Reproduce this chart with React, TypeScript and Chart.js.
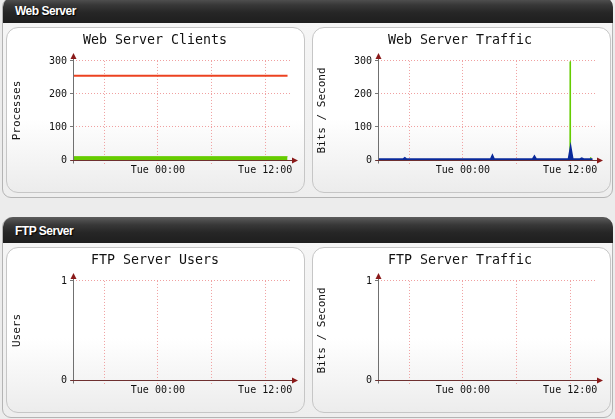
import React, { useEffect, useRef } from 'react';
import { Chart, registerables } from 'chart.js';

Chart.register(...registerables);

// ---------- data ----------
const sectionNames = ['Web Server', 'FTP Server'];
const chartTitles = ['Web Server Clients', 'Web Server Traffic', 'FTP Server Users', 'FTP Server Traffic'];
const yAxisTitles = ['Processes', 'Bits / Second', 'Users', 'Bits / Second'];

// x axis in hours relative to Tue 00:00
const xRange = [-9.5, 15];
const xTickHours = [-6, 0, 6, 12];
const xTickLabels = ['', 'Tue 00:00', '', 'Tue 12:00'];

const webYRange = [0, 300];
const webYStep = 100;
const ftpYRange = [0, 1];
const ftpYStep = 1;

// Web Server Clients
const clientTimes = [-9.5, 14.5];
const clientMaxProcesses = [255, 255];
const clientBusyProcesses = [10, 10];

// Web Server Traffic (incoming, blue)
const trafficInTimes = [-9.5, -6.7, -6.5, -6.3, 3.1, 3.3, 3.5, 7.8, 8.0, 8.2, 11.8, 12.05, 12.3, 13.1, 13.3, 13.5, 14.5];
const trafficIn = [3, 3, 7, 3, 3, 15, 3, 3, 12, 3, 3, 42, 3, 3, 6, 3, 3];
// Web Server Traffic (outgoing, green)
const trafficOutTimes = [11.96, 12.0, 12.04, 14.2, 14.3, 14.4];
const trafficOut = [0, 298, 0, 0, 8, 0];

// FTP Server (no samples)
const ftpUserTimes: number[] = [];
const ftpUsers: number[] = [];
const ftpTrafficTimes: number[] = [];
const ftpTraffic: number[] = [];

// ---------- styling ----------
const MONO = "'DejaVu Sans Mono', monospace";
const GRID = '#f0a0a0';

const pts = (xs: number[], ys: number[]) => xs.map((x, i) => ({ x, y: ys[i] }));

const axisArrows = {
  id: 'axisArrows',
  afterDatasetsDraw(chart: any) {
    const { ctx, chartArea } = chart;
    const { left, right, top, bottom } = chartArea;
    const lx = Math.round(left) + 0.5;
    const by = Math.round(bottom) + 0.5;
    ctx.save();
    ctx.setLineDash([]);
    ctx.lineWidth = 1;
    ctx.strokeStyle = '#707070';
    ctx.beginPath();
    ctx.moveTo(lx, by + 3);
    ctx.lineTo(lx, top - 3);
    ctx.stroke();
    ctx.strokeStyle = '#6e3030';
    ctx.beginPath();
    ctx.moveTo(lx - 3, by);
    ctx.lineTo(right, by);
    ctx.stroke();
    ctx.fillStyle = '#8a1a1a';
    ctx.beginPath();
    ctx.moveTo(lx, top - 8);
    ctx.lineTo(lx - 3, top - 2);
    ctx.lineTo(lx + 3, top - 2);
    ctx.closePath();
    ctx.fill();
    ctx.beginPath();
    ctx.moveTo(right + 6, by);
    ctx.lineTo(right, by - 3);
    ctx.lineTo(right, by + 3);
    ctx.closePath();
    ctx.fill();
    ctx.restore();
  },
};

function makeConfig(i: number): any {
  const isWeb = i < 2;
  let datasets: any[] = [];
  if (i === 0) {
    datasets = [
      { label: 'Max', data: pts(clientTimes, clientMaxProcesses), borderColor: '#ec4220', borderWidth: 2, pointRadius: 0, fill: false },
      { label: 'Busy', data: pts(clientTimes, clientBusyProcesses), borderColor: '#66cc00', backgroundColor: '#66cc00', borderWidth: 1, pointRadius: 0, fill: 'origin' },
    ];
  } else if (i === 1) {
    datasets = [
      { label: 'In', data: pts(trafficInTimes, trafficIn), borderColor: '#0a2a9a', backgroundColor: '#0a2a9a', borderWidth: 1.5, pointRadius: 0, fill: 'origin' },
      { label: 'Out', data: pts(trafficOutTimes, trafficOut), borderColor: '#66cc00', backgroundColor: '#66cc00', borderWidth: 1, pointRadius: 0, fill: 'origin' },
    ];
  } else if (i === 2) {
    datasets = [{ label: 'Users', data: pts(ftpUserTimes, ftpUsers), borderColor: '#66cc00', pointRadius: 0 }];
  } else {
    datasets = [{ label: 'Traffic', data: pts(ftpTrafficTimes, ftpTraffic), borderColor: '#0a2a9a', pointRadius: 0 }];
  }
  const yr = isWeb ? webYRange : ftpYRange;
  return {
    type: 'line',
    data: { datasets },
    plugins: [axisArrows],
    options: {
      animation: false,
      responsive: false,
      events: [],
      layout: { padding: { left: 12, right: 12, top: 0, bottom: 12 } },
      plugins: {
        legend: { display: false },
        tooltip: { enabled: false },
        title: {
          display: true,
          text: chartTitles[i],
          color: '#111',
          font: { family: MONO, size: 13.3, weight: 'normal' },
          padding: { top: 6, bottom: 12 },
        },
      },
      scales: {
        x: {
          type: 'linear',
          min: xRange[0],
          max: xRange[1],
          afterBuildTicks: (s: any) => {
            s.ticks = xTickHours.map((v) => ({ value: v }));
          },
          afterFit: (s: any) => {
            s.height = 20;
          },
          ticks: {
            autoSkip: false,
            maxRotation: 0,
            padding: 0,
            color: '#111',
            font: { family: MONO, size: 10 },
            callback: (_v: any, idx: number) => xTickLabels[idx],
          },
          grid: { color: GRID, lineWidth: 1, drawTicks: true, tickLength: 4, tickColor: GRID, tickBorderDash: [1, 2] },
          border: { display: false, dash: [1, 2] },
        },
        y: {
          type: 'linear',
          min: yr[0],
          max: yr[1],
          afterFit: (s: any) => {
            s.width = 55;
          },
          ticks: {
            stepSize: isWeb ? webYStep : ftpYStep,
            padding: 3,
            color: '#111',
            font: { family: MONO, size: 10 },
          },
          title: {
            display: true,
            text: yAxisTitles[i],
            color: '#111',
            font: { family: MONO, size: 11 },
            padding: { top: -7.6, bottom: 0 },
          },
          grid: { color: GRID, lineWidth: 1, drawTicks: true, tickLength: 3, tickColor: '#777', tickBorderDash: [] },
          border: { display: false, dash: [1, 2] },
        },
      },
    },
  };
}

const sectionTops = [-3, 217];
const panelLefts = [6, 312];
const canvasLefts = [6, 311];

export default function App() {
  const refs = [useRef<HTMLCanvasElement>(null), useRef<HTMLCanvasElement>(null), useRef<HTMLCanvasElement>(null), useRef<HTMLCanvasElement>(null)];

  useEffect(() => {
    const charts = refs.map((r, i) => new Chart(r.current as HTMLCanvasElement, makeConfig(i)));
    return () => charts.forEach((c) => c.destroy());
  }, []);

  return (
    <div style={{ position: 'absolute', left: 0, top: 0, width: 615, height: 419, overflow: 'hidden', background: '#ececec' }}>
      {sectionTops.map((st, s) => (
        <React.Fragment key={s}>
          <div
            style={{
              position: 'absolute', left: 2, top: st, width: 611, height: 201, boxSizing: 'border-box',
              border: '1px solid #b4b4b4', borderRadius: '10px 10px 9px 9px', background: 'linear-gradient(#f6f6f6, #eeeeee)',
            }}
          />
          <div
            style={{
              position: 'absolute', left: 3, top: st, width: 610, height: 26, borderRadius: '10px 10px 0 0',
              background: 'linear-gradient(180deg, #5c5c5c 0%, #383838 30%, #262626 60%, #1e1e1e 100%)',
            }}
          >
            <span
              style={{
                position: 'absolute', left: 12, top: 7, color: '#fff', fontFamily: "'Liberation Sans', Arial, sans-serif",
                fontWeight: 'bold', fontSize: 12, letterSpacing: -0.5, lineHeight: '14px', textShadow: '1px 1px 1px #000',
              }}
            >
              {sectionNames[s]}
            </span>
          </div>
          {panelLefts.map((pl, p) => (
            <div
              key={p}
              style={{
                position: 'absolute', left: pl, top: st + 30, width: 299, height: 166, boxSizing: 'border-box',
                border: '1px solid #c6c6c6', borderRadius: 12,
                background: 'linear-gradient(180deg, #ffffff 0%, #ffffff 55%, #ececec 100%)',
              }}
            />
          ))}
          {canvasLefts.map((cl, p) => (
            <canvas
              key={'c' + p}
              ref={refs[s * 2 + p]}
              width={298}
              height={165}
              style={{ position: 'absolute', left: cl, top: st + 30, width: 298, height: 165 }}
            />
          ))}
        </React.Fragment>
      ))}
    </div>
  );
}
